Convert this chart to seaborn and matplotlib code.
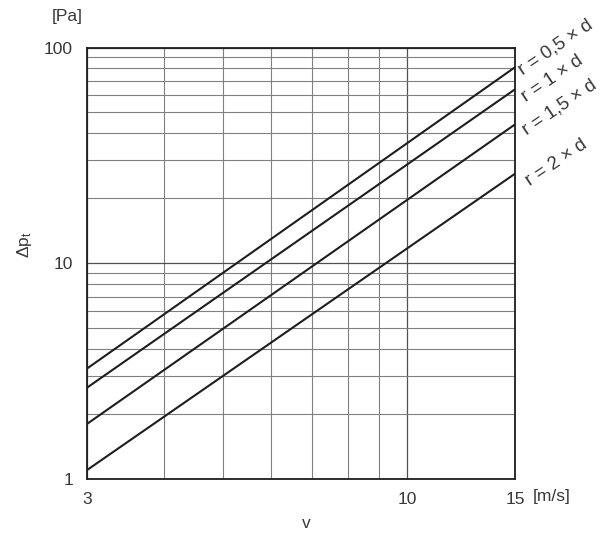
import matplotlib
matplotlib.use("Agg")
import matplotlib.pyplot as plt
import seaborn as sns
import pandas as pd
from matplotlib.ticker import FixedLocator, FixedFormatter, NullFormatter

# ---- data ----
velocity = [3, 15]
series_labels = ["r = 0,5 × d", "r = 1 × d", "r = 1,5 × d", "r = 2 × d"]
dp_r05 = [3.25, 81.0]
dp_r1 = [2.65, 64.0]
dp_r15 = [1.80, 44.0]
dp_r2 = [1.10, 26.0]

x_ticks = [3, 10, 15]
x_tick_labels = ["3", "10", "15"]
y_ticks = [1, 10, 100]
y_tick_labels = ["1", "10", "100"]
x_minor = [4, 5, 6, 7, 8, 9]
y_minor = [2, 3, 4, 5, 6, 7, 8, 9, 20, 30, 40, 50, 60, 70, 80, 90]

rows = []
for lab, vals in zip(series_labels, [dp_r05, dp_r1, dp_r15, dp_r2]):
    for v, p in zip(velocity, vals):
        rows.append({"v": v, "dp": p, "r": lab})
df = pd.DataFrame(rows)

sns.set_theme(style="white")
plt.rcParams["font.family"] = ["Liberation Sans", "DejaVu Sans"]
plt.rcParams["mathtext.fontset"] = "custom"
plt.rcParams["mathtext.rm"] = "Liberation Sans"
plt.rcParams["mathtext.it"] = "Liberation Sans"

text_col = "#383838"

fig = plt.figure(figsize=(6.07, 5.35), dpi=100)
ax = fig.add_axes([87 / 607, 1 - 479 / 535, (515 - 87) / 607, (479 - 47.5) / 535])

sns.lineplot(data=df, x="v", y="dp", hue="r", palette=["#1e1e1e"] * 4,
             legend=False, linewidth=1.5, ax=ax)

ax.set_xscale("log")
ax.set_yscale("log")
ax.set_xlim(3, 15)
ax.set_ylim(1, 100)

ax.xaxis.set_major_locator(FixedLocator(x_ticks))
ax.xaxis.set_major_formatter(FixedFormatter(x_tick_labels))
ax.xaxis.set_minor_locator(FixedLocator(x_minor))
ax.xaxis.set_minor_formatter(NullFormatter())
ax.yaxis.set_major_locator(FixedLocator(y_ticks))
ax.yaxis.set_major_formatter(FixedFormatter(y_tick_labels))
ax.yaxis.set_minor_locator(FixedLocator(y_minor))
ax.yaxis.set_minor_formatter(NullFormatter())

ax.grid(which="major", color="#505050", linewidth=0.9)
ax.grid(which="minor", color="#808080", linewidth=0.8)
ax.tick_params(which="both", length=0, labelsize=12.5, labelcolor=text_col)
ax.tick_params(axis="x", pad=9)
ax.tick_params(axis="y", pad=10)
for s in ax.spines.values():
    s.set_color("#1e1e1e")
    s.set_linewidth(1.3)

ax.set_xlabel("")
ax.set_ylabel("")

label_offsets = [(4, -3), (6, -6.5), (6.5, -5), (9, -6.5)]
for lab, vals, off in zip(series_labels, [dp_r05, dp_r1, dp_r15, dp_r2], label_offsets):
    ax.annotate(lab, xy=(velocity[-1], vals[-1]), xytext=off,
                textcoords="offset points", rotation=34, rotation_mode="anchor",
                ha="left", va="center", fontsize=13.5, color=text_col,
                annotation_clip=False)

fig.text(306 / 607, 1 - 523 / 535, "v", ha="center", va="center",
         fontsize=12.5, color=text_col)
fig.text(24 / 607, 1 - 245 / 535, r"$\Delta\mathrm{p}_\mathrm{t}$", ha="center",
         va="center", rotation=90, fontsize=12.5, color=text_col)
fig.text(67 / 607, 1 - 17 / 535, "[Pa]", ha="center", va="center",
         fontsize=12.5, color=text_col)
fig.text(552 / 607, 1 - 496 / 535, "[m/s]", ha="center", va="center",
         fontsize=12.5, color=text_col)

fig.savefig("out.png", dpi=100, facecolor="white")
